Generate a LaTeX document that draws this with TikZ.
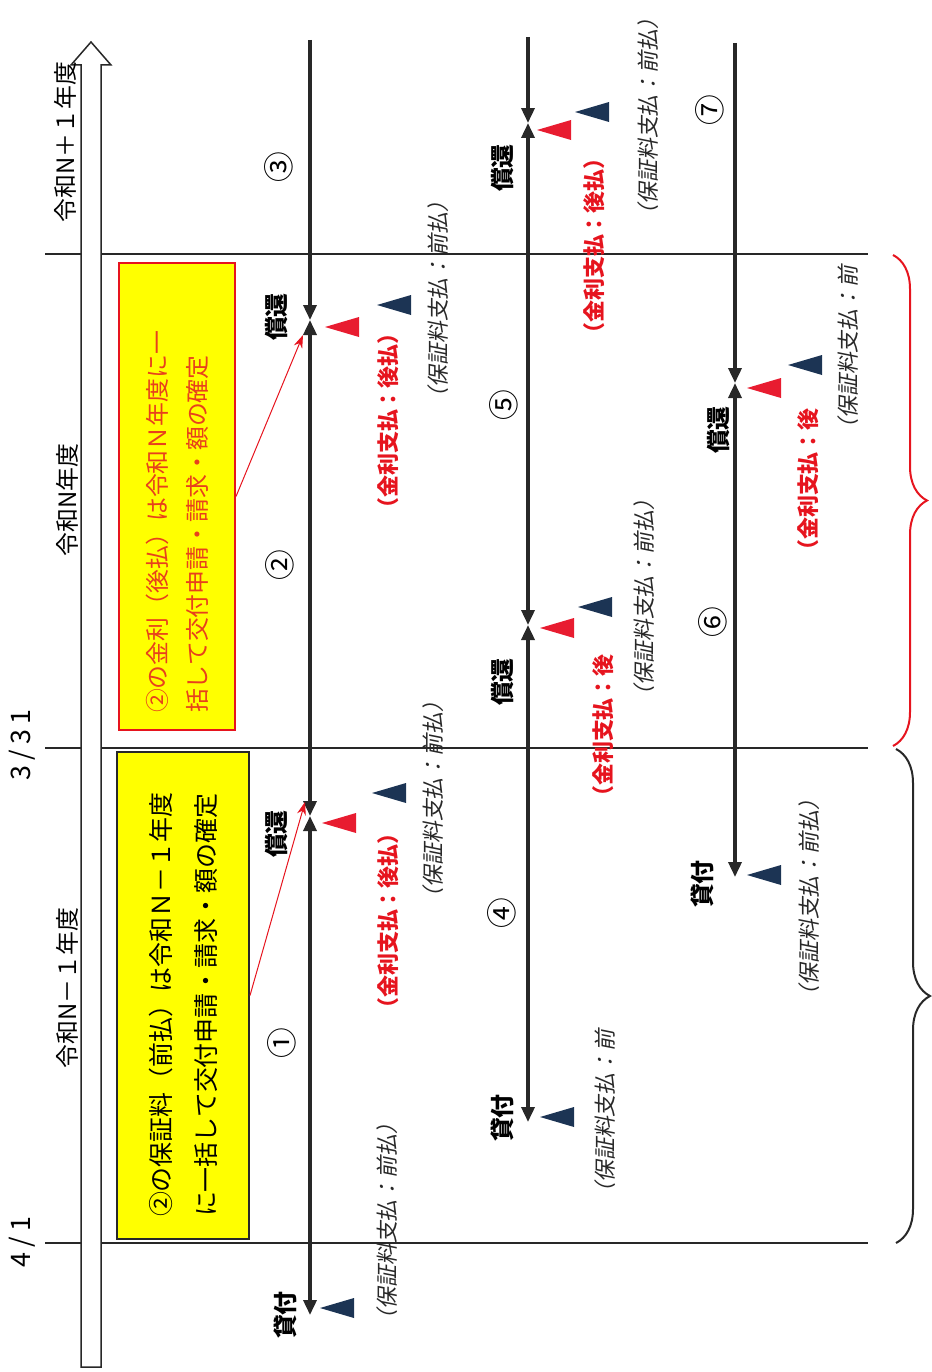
\documentclass[tikz,border=0pt]{standalone}
\usepackage{fontspec}
\setmainfont{Noto Sans CJK JP}
\newfontfamily\slantfont{Noto Sans CJK JP}[FakeSlant=0.2]
\newfontfamily\datefont{Noto Sans CJK JP}[LetterSpace=20]
\usetikzlibrary{arrows.meta,decorations.pathreplacing}
\definecolor{linegray}{RGB}{40,40,40}
\definecolor{markred}{RGB}{232,28,48}
\definecolor{marknavy}{RGB}{28,52,84}
\definecolor{boxtext}{RGB}{232,64,28}
\definecolor{notered}{RGB}{230,20,30}
\definecolor{noteyellow}{RGB}{255,255,0}
\tikzset{
  loantip/.tip={Triangle[length=0.3cm,width=0.26cm]},
  yearline/.style={draw=linegray, line width=0.03cm},
  loanline/.style={draw=linegray, line width=0.07cm, arrows={loantip-loantip}},
  openline/.style={draw=linegray, line width=0.07cm, arrows={-loantip}},
  yearlabel/.style={rotate=90, font=\fontsize{13.6}{15}\selectfont},
  datelabel/.style={rotate=90, font=\datefont\fontsize{15.3}{17}\selectfont},
  notebox/.style={rotate=90, fill=noteyellow, line width=0.04cm, align=left},
  noteconn/.style={draw=notered, line width=0.02cm, -{Stealth[length=0.26cm,width=0.18cm]}},
  evlabel/.style={rotate=90, font=\bfseries\fontsize{13.6}{15}\selectfont},
  numlabel/.style={rotate=90, font=\fontsize{17.5}{19}\selectfont},
  gloss/.style={rotate=90, text=linegray, font=\slantfont\fontsize{12.5}{14}\selectfont},
  redgloss/.style={rotate=90, text=notered, font=\bfseries\fontsize{12.5}{14}\selectfont}
}
\newcommand{\redmark}[1]{\fill[markred] (#1) -- ++(34,-10) -- ++(0,20) -- cycle;}
\newcommand{\navymark}[1]{\fill[marknavy] (#1) -- ++(34,-10) -- ++(0,20) -- cycle;}
\begin{document}
\begin{tikzpicture}[x=0.02cm, y=-0.02cm]
\useasboundingbox (0,0) rectangle (931,1372);
% fiscal year boundaries
\draw[yearline] (45,254) -- (868,254);
\draw[yearline] (45,748) -- (868,748);
\draw[yearline] (45,1243) -- (868,1243);
% time axis
\filldraw[fill=white, draw=linegray, line width=0.03cm] (81,1367) -- (81,65) -- (71,65) -- (91,42) -- (111,65) -- (101,65) -- (101,1367) -- cycle;
\node[yearlabel] (yrNp1) at (65,142) {令和N＋１年度};
\node[yearlabel] (yrN) at (67,500) {令和N年度};
\node[yearlabel] (yrNm1) at (67,988) {令和N－１年度};
\node[datelabel] (d331) at (22,745) {3/31};
\node[datelabel] (d41) at (22,1242) {4/1};
% notes
\node[notebox, draw=notered, text=boxtext, minimum width=9.34cm, minimum height=2.32cm, text width=8.66cm,
  font=\fontsize{13.6}{22.7}\selectfont] (boxA) at (177,496.5)
  {②の金利（後払）は令和Ｎ年度に一\\括して交付申請・請求・額の確定};
\node[notebox, draw=linegray, text=black, minimum width=9.74cm, minimum height=2.64cm, text width=8.86cm,
  font=\fontsize{14.2}{25.5}\selectfont] (boxB) at (183,995.5)
  {②の保証料（前払）は令和Ｎ－１年度\\に一括して交付申請・請求・額の確定};
% loan 1
\coordinate (l1top) at (310,40);
\coordinate (l1rep2) at (310,320);
\coordinate (l1rep1) at (310,816);
\coordinate (l1loan) at (310,1315);
\draw[openline] (l1top) -- (l1rep2);
\draw[loanline] (l1rep2) -- (l1rep1);
\draw[loanline] (l1rep1) -- (l1loan);
\node[numlabel] (n3) at (279,167) {③};
\node[numlabel] (n2) at (280,565) {②};
\node[numlabel] (n1) at (282,1043) {①};
\node[evlabel] (l1loanlbl) at (285,1315) {貸付};
\node[evlabel] (l1rep1lbl) at (276,834) {償還};
\node[evlabel] (l1rep2lbl) at (276,317) {償還};
\navymark{320,1308}
\redmark{322,823} \navymark{372,793}
\redmark{325,327} \navymark{377,305}
\node[gloss] (g1) at (387,1222) {（保証料支払：前払）};
\node[redgloss] (r1) at (388,921) {（金利支払：後払）};
\node[gloss] (g2) at (433,800) {（保証料支払：前払）};
\node[redgloss] (r2) at (388,421) {（金利支払：後払）};
\node[gloss] (g3) at (438,300) {（保証料支払：前払）};
% loan 2
\coordinate (l2top) at (528,37);
\coordinate (l2rep2) at (528,123);
\coordinate (l2rep1) at (528,625);
\coordinate (l2loan) at (528,1122);
\draw[openline] (l2top) -- (l2rep2);
\draw[loanline] (l2rep2) -- (l2rep1);
\draw[loanline] (l2rep1) -- (l2loan);
\node[numlabel] (n5) at (504,405) {⑤};
\node[numlabel] (n4) at (502,913) {④};
\node[evlabel] (l2loanlbl) at (502,1118) {貸付};
\node[evlabel] (l2rep1lbl) at (502,682) {償還};
\node[evlabel] (l2rep2lbl) at (502,168) {償還};
\navymark{540,1117}
\redmark{540,628} \navymark{578,607}
\redmark{537,130} \navymark{575,112}
\node[gloss] (g4) at (605,1117) {（保証料支払：前};
\node[redgloss] (r3) at (603,731) {（金利支払：後};
\node[gloss] (g5) at (644,598) {（保証料支払：前払）};
\node[redgloss] (r4) at (594,246) {（金利支払：後払）};
\node[gloss] (g6) at (648,117) {（保証料支払：前払）};
% loan 3
\coordinate (l3top) at (735,43);
\coordinate (l3rep1) at (735,383);
\coordinate (l3loan) at (735,877);
\draw[openline] (l3top) -- (l3rep1);
\draw[loanline] (l3rep1) -- (l3loan);
\node[numlabel] (n7) at (710,110) {⑦};
\node[numlabel] (n6) at (713,622) {⑥};
\node[evlabel] (l3loanlbl) at (702,884) {貸付};
\node[evlabel] (l3rep1lbl) at (718,430) {償還};
\navymark{747,875}
\redmark{747,388} \navymark{788,365}
\node[gloss] (g7) at (809,898) {（保証料支払：前払）};
\node[redgloss] (r5) at (808,485) {（金利支払：後};
\node[gloss] (g8) at (848,353) {（保証料支払：前};
% note pointers
\coordinate (tipA) at (303,335);
\coordinate (tipB) at (305,802);
\draw[noteconn] (boxA.south) -- (tipA);
\draw[noteconn] (boxB.south) -- (tipB);
% braces
\draw[decorate, decoration={brace, amplitude=0.68cm}, line width=0.04cm, draw=notered] (893,255) -- (893,746);
\draw[decorate, decoration={brace, amplitude=0.68cm}, line width=0.04cm, draw=linegray] (896,749) -- (896,1243);
\end{tikzpicture}
\end{document}
